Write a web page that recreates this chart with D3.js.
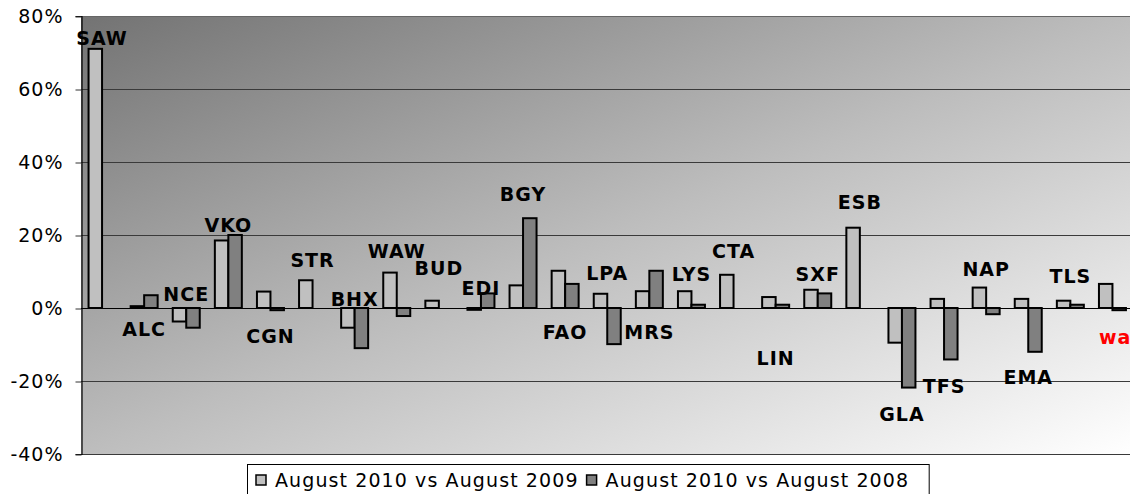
<!DOCTYPE html>
<html>
<head>
<meta charset="utf-8">
<script src="https://cdn.jsdelivr.net/npm/d3@7"></script>
<style>
  body { margin: 0; background: #fff; }
  text { font-family: "DejaVu Sans", Verdana, sans-serif; }
</style>
</head>
<body>
<div id="chart-area"></div>
<script>
const categories = ["SAW","ALC","NCE","VKO","CGN","STR","BHX","WAW","BUD","EDI","BGY","FAO","LPA",
                    "MRS","LYS","CTA","LIN","SXF","ESB","GLA","TFS","NAP","EMA","TLS","wa"];
const series = ["August 2010 vs August 2009", "August 2010 vs August 2008"];
// % change (null = no bar)
const vs2009 = [71, 0.5, -3.7, 18.5, 4.5, 7.6, -5.4, 9.7, 2, -0.5, 6.2, 10.2, 3.9,
                4.6, 4.6, 9.1, 3, 5, 22, -9.5, 2.5, 5.6, 2.5, 2, 6.6];
const vs2008 = [null, 3.5, -5.4, 20, -0.6, null, -11, -2.2, null, 4, 24.6, 6.6, -9.9,
                10.2, 0.9, null, 0.9, 4, null, -21.8, -14.1, -1.7, -12, 0.9, -0.6];
// level (in %) where each airport name sits
const labelLevel = [73.9, -5.7, 3.8, 22.7, -7.7, 13.1, 2.5, 15.6, 10.9, 5.5, 31.2, -6.6, 9.6,
                    -6.6, 9.3, 15.6, -13.7, 9.3, 29, -29, -21.3, 10.7, -18.9, 8.8, -7.9];
const yTicks = [-40, -20, 0, 20, 40, 60, 80];

const width = 1130;
const height = 494;
const colors = ["#c0c0c0", "#808080"];

const svg = d3.select("#chart-area")
    .append("svg")
        .attr("width", width)
        .attr("height", height);

const x = d3.scaleBand()
    .domain(categories)
    .range([81, 1133.5]);

const xSub = d3.scaleBand()
    .domain([0, 1])
    .range([0, x.bandwidth()])
    .paddingOuter(0.56);

const y = d3.scaleLinear()
    .domain([-40, 80])
    .range([454, 16]);

// plot background
const grad = svg.append("defs").append("linearGradient")
    .attr("id", "bg")
    .attr("x1", 0).attr("y1", 0).attr("x2", 1).attr("y2", 1);
grad.append("stop").attr("offset", 0).attr("stop-color", "#737373");
grad.append("stop").attr("offset", 0.5).attr("stop-color", "#bdbdbd");
grad.append("stop").attr("offset", 1).attr("stop-color", "#ffffff");

svg.append("rect")
    .attr("x", x.range()[0])
    .attr("y", y(80))
    .attr("width", x.range()[1] - x.range()[0])
    .attr("height", y(-40) - y(80))
    .attr("fill", "url(#bg)");

// gridlines
svg.selectAll(".grid")
  .data(yTicks.filter(d => d !== 0))
  .enter()
  .append("line")
    .attr("x1", x.range()[0])
    .attr("x2", width)
    .attr("y1", d => y(d) + 0.5)
    .attr("y2", d => y(d) + 0.5)
    .attr("stroke", d => (d === 80 ? "#666" : "#3a3a3a"))
    .attr("stroke-width", 1.2);

// y axis
const yAxis = svg.append("g")
    .attr("transform", `translate(${x.range()[0] + 0.5},0)`)
    .call(d3.axisLeft(y).tickValues(yTicks).tickSize(6).tickPadding(12).tickFormat(d => d + "%"));
yAxis.select(".domain").attr("stroke", "#000").attr("stroke-width", 1.2);
yAxis.selectAll(".tick line").attr("stroke", "#333").attr("transform", "translate(0,0.5)");
yAxis.selectAll(".tick text")
    .style("font-size", "19px")
    .style("letter-spacing", "1px")
    .attr("fill", "#000");

// bars
const rows = categories.map((c, i) => ({ c, vals: [vs2009[i], vs2008[i]] }));

const groups = svg.selectAll(".cat")
  .data(rows)
  .enter()
  .append("g")
    .attr("transform", d => `translate(${x(d.c)},0)`);

groups.selectAll("rect")
  .data(d => d.vals.map((v, k) => ({ v, k })).filter(e => e.v !== null))
  .enter()
  .append("rect")
    .attr("x", d => xSub(d.k))
    .attr("width", xSub.bandwidth())
    .attr("y", d => y(Math.max(0, d.v)))
    .attr("height", d => Math.abs(y(d.v) - y(0)))
    .attr("fill", d => colors[d.k])
    .attr("stroke", "#000")
    .attr("stroke-width", 2);

// zero line
svg.append("line")
    .attr("x1", x.range()[0])
    .attr("x2", width)
    .attr("y1", y(0) + 0.5)
    .attr("y2", y(0) + 0.5)
    .attr("stroke", "#000")
    .attr("stroke-width", 1.2);

// airport names
svg.selectAll(".name")
  .data(categories)
  .enter()
  .append("text")
    .attr("x", (d, i) => i === categories.length - 1 ? x(d) + xSub(0) : x(d) + x.bandwidth() / 2)
    .attr("y", (d, i) => y(labelLevel[i]))
    .attr("text-anchor", (d, i) => i === categories.length - 1 ? "start" : "middle")
    .attr("dominant-baseline", "central")
    .style("font-size", "19px")
    .style("font-weight", "bold")
    .style("letter-spacing", "1px")
    .attr("fill", (d, i) => i === categories.length - 1 ? "#ff0000" : "#000")
    .text(d => d);

// legend
const legend = svg.append("g");
const box = legend.append("rect")
    .attr("x", 247.5)
    .attr("y", 464.5)
    .attr("height", 40)
    .attr("fill", "#fff")
    .attr("stroke", "#000");

let lx = 256;
series.forEach((s, k) => {
    legend.append("rect")
        .attr("x", lx)
        .attr("y", 475)
        .attr("width", 10)
        .attr("height", 10)
        .attr("fill", colors[k])
        .attr("stroke", "#000")
        .attr("stroke-width", 1.5);
    const t = legend.append("text")
        .attr("x", lx + 19)
        .attr("y", 487)
        .style("font-size", "19px")
        .style("letter-spacing", "1.1px")
        .attr("fill", "#000")
        .text(s);
    lx += 19 + t.node().getComputedTextLength() + 8;
});
box.attr("width", lx - 247.5 + 12);
</script>
</body>
</html>
